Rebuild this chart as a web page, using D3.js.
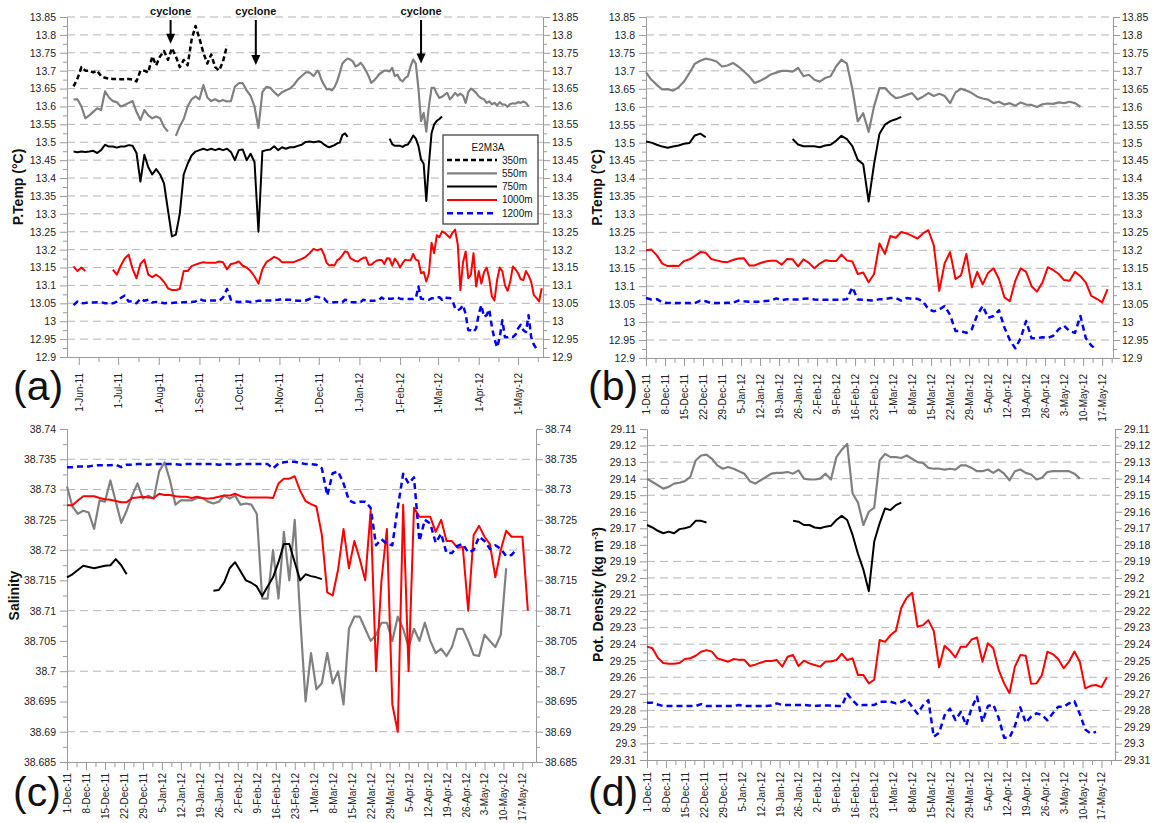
<!DOCTYPE html>
<html lang="en">
<head>
<meta charset="UTF-8">
<title>E2M3A temperature, salinity and density</title>
<script src="https://d3js.org/d3.v7.min.js"></script>
<style>
  body { margin: 0; background: #fff; }
  svg text { font-family: 'Liberation Sans', Arial, sans-serif; }
</style>
</head>
<body>
<div id="canvas"></div>
<script>
// ---- sampling of the series ----
const DAY = 864e5;
const earlyStart = Date.UTC(2011, 4, 28), earlyStep = 3;   // Jun-Nov 2011, every 3 days
const lateStart = Date.UTC(2011, 11, 1), lateStep = 2;     // Dec 2011 - May 2012, every 2 days

// ---- potential temperature (°C), Jun-Nov 2011 ----
const t350early = [13.656,13.678,13.71,13.70,13.70,13.695,13.70,13.685,13.68,13.678,13.677,13.677,13.676,13.676,13.677,13.675,13.67,13.70,13.70,13.695,
  13.74,13.715,13.74,13.755,13.73,13.763,13.74,13.71,13.73,13.715,13.786,13.825,13.79,13.75,13.72,13.745,13.71,13.70,13.726,13.77];
const t550early = [13.62,13.62,13.60,13.567,13.575,13.585,13.595,13.59,13.642,13.625,13.615,13.612,13.60,13.604,13.61,13.615,13.585,13.562,13.59,13.575,
  13.567,13.572,13.567,13.543,13.53,null,13.518,13.545,13.565,13.60,13.62,13.628,13.62,13.66,13.625,13.615,13.62,13.614,13.618,13.614,
  13.615,13.655,13.665,13.665,13.645,13.63,13.60,13.54,13.64,13.655,13.652,13.64,13.63,13.64,13.645,13.65,13.66,13.675,13.685,13.695,13.695,13.685,13.70];
const t750early = [13.474,13.472,13.474,13.473,13.474,13.476,13.47,13.478,13.493,13.488,13.488,13.485,13.488,13.488,13.492,13.49,13.47,13.39,13.465,13.43,
  13.41,13.425,13.41,13.385,13.31,13.237,13.242,13.30,13.41,13.44,13.463,13.474,13.478,13.482,13.478,13.482,13.478,13.482,13.478,13.482,
  13.473,13.45,13.478,13.48,13.45,13.468,13.445,13.25,13.475,13.478,13.48,13.489,13.478,13.486,13.482,13.486,13.486,13.49,13.493,13.501,13.502,13.50,13.502];
const t1000early = [13.153,13.14,13.15,13.14,null,null,null,null,null,null,13.144,13.13,13.155,13.175,13.186,13.146,13.12,13.16,13.172,13.13,
  13.123,13.13,13.122,13.11,13.092,13.087,13.087,13.09,13.14,13.14,13.154,13.158,13.162,13.165,13.163,13.163,13.163,13.167,13.165,13.145,
  13.16,13.162,13.167,13.155,13.15,13.14,13.125,13.105,13.145,13.165,13.172,13.18,13.175,13.165,13.165,13.165,13.165,13.17,13.174,13.18,13.19,13.202,13.198];
const t1200early = [13.045,13.055,13.05,13.051,13.053,13.052,13.053,13.053,13.05,13.05,13.05,13.055,13.065,13.072,13.055,13.056,13.05,13.063,13.057,13.06,
  13.052,13.054,13.053,13.05,13.051,13.051,13.052,13.052,13.053,13.054,13.054,13.055,13.062,13.058,13.057,13.058,13.058,13.057,13.066,13.09,
  13.06,13.055,13.054,13.055,13.055,13.054,13.055,13.057,13.057,13.058,13.058,13.059,13.06,13.062,13.06,13.06,13.058,13.057,13.057,13.058,13.062,13.068,13.068];

// ---- potential temperature (°C), Dec 2011 - May 2012 ----
const t550late = [13.696,13.675,13.661,13.648,13.649,13.645,13.654,13.67,13.694,13.72,13.728,13.734,13.731,13.726,13.712,13.715,13.722,13.712,13.699,13.685,
  13.666,13.672,13.68,13.69,13.695,13.70,13.70,13.698,13.708,13.685,13.689,13.675,13.67,13.68,13.685,13.712,13.731,13.72,13.65,13.559,
  13.582,13.53,13.601,13.652,13.652,13.636,13.624,13.627,13.633,13.638,13.62,13.628,13.638,13.63,13.636,13.63,13.61,13.64,13.65,13.645,
  13.638,13.628,13.623,13.62,13.61,13.614,13.606,13.61,13.603,13.612,13.606,13.605,13.599,13.607,13.609,13.608,13.612,13.61,13.614,13.61,13.60];
const t750late = [13.503,13.50,13.494,13.489,13.486,13.489,13.492,13.497,13.499,13.52,13.525,13.515,
  null,null,null,null,null,null,null,null,null,null,null,null,null,null,null,
  13.51,13.495,13.49,13.49,13.49,13.487,13.492,13.494,13.505,13.519,13.51,13.49,13.452,13.44,13.336,13.44,13.525,13.55,13.56,13.565,13.572];
const t1000late = [13.20,13.202,13.186,13.163,13.156,13.157,13.156,13.17,13.175,13.184,13.195,13.193,13.176,13.172,13.168,13.167,13.173,13.177,13.178,13.158,
  13.158,13.164,13.169,13.171,13.171,13.16,13.176,13.175,13.155,13.175,13.165,13.15,13.163,13.172,13.17,13.17,13.188,13.172,13.169,13.134,
  13.138,13.111,13.134,13.219,13.19,13.24,13.235,13.251,13.247,13.24,13.233,13.247,13.256,13.214,13.087,13.164,13.195,13.12,13.13,13.19,
  13.097,13.14,13.105,13.137,13.15,13.12,13.069,13.058,13.115,13.15,13.14,13.10,13.085,13.11,13.153,13.145,13.134,13.117,13.115,13.14,
  13.128,13.11,13.073,13.065,13.055,13.092];
const t1200late = [13.067,13.063,13.064,13.055,13.053,13.053,13.053,13.053,13.053,13.053,13.06,13.058,13.053,13.053,13.053,13.054,13.054,13.06,13.058,13.057,
  13.057,13.057,13.059,13.06,13.066,13.061,13.064,13.063,13.063,13.065,13.066,13.063,13.062,13.062,13.062,13.062,13.062,13.064,13.097,13.063,
  13.062,13.061,13.06,13.064,13.064,13.067,13.067,13.06,13.067,13.065,13.065,13.058,13.036,13.03,13.035,13.045,13.02,12.975,12.975,12.97,
  12.98,13.02,13.045,13.012,13.017,13.033,12.985,12.95,12.927,12.955,13.003,12.955,12.955,12.958,12.956,12.962,12.98,12.99,12.975,12.97,
  13.017,12.955,12.935,12.923];

// ---- salinity, Dec 2011 - May 2012 ----
const s550 = [38.7305,38.7272,38.726,38.7265,38.7262,38.7235,38.7282,38.728,38.7315,38.728,38.7245,38.7265,38.729,38.731,38.7285,38.729,38.7285,38.733,38.7345,38.7315,
  38.7275,38.7282,38.7282,38.7282,38.7286,38.7286,38.728,38.7277,38.728,38.729,38.7285,38.729,38.7275,38.7277,38.7275,38.726,38.712,38.712,38.72,38.712,
  38.723,38.715,38.725,38.709,38.695,38.703,38.697,38.698,38.703,38.698,38.70,38.6945,38.707,38.709,38.709,38.707,38.705,38.706,38.708,38.708,
  38.705,38.709,38.707,38.704,38.707,38.705,38.708,38.705,38.703,38.7037,38.7025,38.704,38.707,38.707,38.705,38.7027,38.7025,38.706,38.705,38.704,
  38.706,38.717];
const s750 = [38.7155,38.716,38.7167,38.7174,38.7172,38.717,38.7172,38.7174,38.7175,38.7185,38.7175,38.716,
  null,null,null,null,null,null,null,null,null,null,null,null,null,null,null,
  38.7133,38.7134,38.7147,38.717,38.718,38.7165,38.715,38.7146,38.714,38.7124,38.714,38.7155,38.718,38.721,38.721,38.718,38.715,38.716,38.7157,38.7155,38.7152];
const s1000 = [38.7274,38.7274,38.7282,38.7289,38.7289,38.7289,38.7286,38.7284,38.7283,38.7281,38.7279,38.7279,38.7286,38.7287,38.7288,38.7287,38.7286,38.7293,38.7291,38.7291,
  38.7289,38.7288,38.7288,38.7286,38.7288,38.7286,38.7285,38.7286,38.7288,38.729,38.729,38.7293,38.7289,38.7287,38.7287,38.7287,38.7287,38.7287,38.7286,38.731,
  38.7318,38.7318,38.7322,38.7298,38.7281,38.7276,38.7272,38.7225,38.713,38.7125,38.7168,38.7235,38.717,38.7215,38.7185,38.715,38.7265,38.70,38.715,38.7235,
  38.6945,38.69,38.7275,38.70,38.727,38.7255,38.7255,38.7255,38.723,38.725,38.7215,38.7215,38.7204,38.7205,38.71,38.7225,38.724,38.7222,38.721,38.7155,
  38.72,38.7232,38.7222,38.7222,38.7222,38.71];
const s1200 = [38.7337,38.7337,38.7338,38.7338,38.7338,38.734,38.734,38.734,38.734,38.7341,38.7337,38.7341,38.7341,38.7342,38.7342,38.7341,38.7342,38.7342,38.7342,38.7342,
  38.7342,38.7341,38.7342,38.7342,38.7342,38.7342,38.7342,38.7342,38.7341,38.7342,38.7342,38.7341,38.7342,38.7342,38.7342,38.7342,38.7342,38.7342,38.7335,38.7343,
  38.7345,38.7346,38.7346,38.7344,38.7342,38.7342,38.7341,38.7335,38.729,38.7327,38.733,38.731,38.7282,38.7278,38.728,38.728,38.727,38.7208,38.7218,38.721,
  38.7208,38.727,38.7326,38.731,38.732,38.7215,38.725,38.7244,38.7212,38.7227,38.7195,38.7195,38.7207,38.721,38.7196,38.72,38.7222,38.7215,38.7202,38.7208,
  38.7202,38.719,38.7192,38.7202];

// ---- potential density (kg m-3), Dec 2011 - May 2012 ----
const d550 = [29.14,29.142,29.144,29.146,29.145,29.143,29.1425,29.1415,29.139,29.129,29.126,29.1255,29.128,29.132,29.134,29.133,29.134,29.1355,29.137,29.1415,
  29.143,29.141,29.139,29.137,29.1365,29.1365,29.136,29.137,29.135,29.14,29.1405,29.1405,29.14,29.137,29.1405,29.127,29.1225,29.119,29.149,29.1545,
  29.168,29.16,29.1575,29.129,29.125,29.127,29.127,29.1275,29.126,29.128,29.13,29.1305,29.1335,29.134,29.134,29.1345,29.134,29.1345,29.132,29.132,
  29.1335,29.1355,29.1355,29.1345,29.1365,29.1345,29.137,29.141,29.1355,29.1345,29.1365,29.1375,29.1405,29.1395,29.136,29.1355,29.1355,29.1355,29.1355,29.137,
  29.14];
const d750 = [29.168,29.1695,29.1715,29.173,29.172,29.173,29.1705,29.17,29.169,29.1655,29.1655,29.1665,
  null,null,null,null,null,null,null,null,null,null,null,null,null,null,null,
  29.1655,29.166,29.168,29.168,29.1695,29.17,29.169,29.1685,29.165,29.1625,29.165,29.174,29.1855,29.195,29.208,29.178,29.167,29.158,29.159,29.156,29.1545];
const d1000 = [29.2415,29.2425,29.2482,29.2514,29.2519,29.2519,29.2514,29.249,29.2485,29.247,29.2446,29.2436,29.2445,29.2486,29.2496,29.2506,29.249,29.2495,29.2495,29.2532,
  29.2524,29.2512,29.2502,29.2502,29.2496,29.2536,29.2476,29.2466,29.2532,29.25,29.2516,29.2526,29.2536,29.2505,29.2505,29.2496,29.2458,29.2496,29.2486,29.2587,
  29.2587,29.2637,29.2615,29.2375,29.2386,29.2345,29.232,29.218,29.212,29.209,29.2295,29.2285,29.2255,29.232,29.254,29.241,29.244,29.248,29.2415,29.2415,
  29.2372,29.236,29.2506,29.2395,29.2425,29.2556,29.2637,29.2697,29.2536,29.2466,29.247,29.264,29.2637,29.2586,29.2446,29.246,29.249,29.2546,29.2506,29.2445,
  29.2506,29.2667,29.2652,29.2647,29.266,29.26];
const d1200 = [29.2754,29.2754,29.2765,29.2774,29.2774,29.2774,29.2774,29.2774,29.2774,29.2774,29.2762,29.2774,29.2774,29.2774,29.2774,29.2774,29.2774,29.2768,29.2774,29.2774,
  29.2774,29.2774,29.2774,29.277,29.2758,29.2768,29.2768,29.2768,29.2768,29.2768,29.277,29.2774,29.277,29.277,29.277,29.2774,29.2774,29.27,29.274,29.2772,
  29.2768,29.2768,29.2768,29.2748,29.2748,29.2748,29.2758,29.275,29.2734,29.2778,29.282,29.277,29.2738,29.296,29.2935,29.283,29.279,29.2858,29.281,29.289,
  29.2785,29.2717,29.287,29.2774,29.2765,29.2845,29.2965,29.2965,29.2895,29.2782,29.2875,29.2838,29.2818,29.2828,29.286,29.2818,29.2778,29.2778,29.2758,29.2745,
  29.2822,29.2915,29.294,29.293];

// ---- ticks ----
const tempTicks = [12.9,12.95,13,13.05,13.1,13.15,13.2,13.25,13.3,13.35,13.4,13.45,13.5,13.55,13.6,13.65,13.7,13.75,13.8,13.85];
const salTicks = [38.685,38.69,38.695,38.7,38.705,38.71,38.715,38.72,38.725,38.73,38.735,38.74];
const denTicks = [29.11,29.12,29.13,29.14,29.15,29.16,29.17,29.18,29.19,29.2,29.21,29.22,29.23,29.24,29.25,29.26,29.27,29.28,29.29,29.3,29.31];
const tempGrid = tempTicks.slice(1);
const salGrid = [38.69,38.7,38.71,38.72,38.73,38.735];
const denGrid = [29.12,29.13,29.14,29.15,29.19,29.2,29.21,29.22,29.23,29.24,29.25,29.26,29.27,29.28,29.29,29.3];
const monthLabels = ['1-Jun-11','1-Jul-11','1-Aug-11','1-Sep-11','1-Oct-11','1-Nov-11','1-Dec-11','1-Jan-12','1-Feb-12','1-Mar-12','1-Apr-12','1-May-12'];
const weekLabels = ['1-Dec-11','8-Dec-11','15-Dec-11','22-Dec-11','29-Dec-11','5-Jan-12','12-Jan-12','19-Jan-12','26-Jan-12','2-Feb-12','9-Feb-12','16-Feb-12','23-Feb-12',
  '1-Mar-12','8-Mar-12','15-Mar-12','22-Mar-12','29-Mar-12','5-Apr-12','12-Apr-12','19-Apr-12','26-Apr-12','3-May-12','10-May-12','17-May-12'];

const depths = ['350m','550m','750m','1000m','1200m'];
const cycloneDates = ['10-Aug-11','14-Oct-11','17-Feb-12'];
const cycloneTips = [13.775, 13.716, 13.72];

// ---- styles per depth ----
const depthColor = ['#000000','#808080','#000000','#ff0000','#0000ff'];
const depthDash = ['5,3', null, null, null, '6,4'];
const depthWidth = [2.5, 2.2, 2, 2, 2.5];

const parseD = d3.utcParse('%d-%b-%y');
const fmtD = d3.utcFormat('%-d-%b-%y');

function toPoints(start, step, vals) {
  return vals.map((v, i) => ({ date: new Date(start + i * step * DAY), v: v }));
}
function early(v) { return toPoints(earlyStart, earlyStep, v); }
function late(v) { return toPoints(lateStart, lateStep, v); }

const svg = d3.select('#canvas').append('svg')
  .attr('width', 1155).attr('height', 823);

function styleAxis(sel, size) {
  sel.select('.domain').attr('stroke', '#9a9a9a');
  sel.selectAll('.tick line').attr('stroke', '#9a9a9a');
  sel.selectAll('text').attr('fill', '#222').style('font-size', (size || 10.5) + 'px')
    .style('font-family', "'Liberation Sans', Arial, sans-serif");
}

function drawPanel(p) {
  const x = d3.scaleUtc().domain(p.xDomain).range([p.left, p.right]);
  const y = d3.scaleLinear().domain(p.yDomain).range([p.bottom, p.top]);
  const g = svg.append('g');

  // dashed grid
  g.selectAll('line.grid').data(p.grid).join('line')
    .attr('class', 'grid')
    .attr('x1', p.left).attr('x2', p.right)
    .attr('y1', d => y(d)).attr('y2', d => y(d))
    .attr('stroke', '#b4b4b4').attr('stroke-dasharray', '8,5');

  // y axes, left and right, with minor ticks
  const minorY = p.yTicks.slice(1).map((v, i) => (v + p.yTicks[i]) / 2);
  [[d3.axisLeft, p.left, 4], [d3.axisRight, p.right, 2]].forEach(([fn, pos, pad]) => {
    g.append('g').attr('transform', `translate(${pos},0)`)
      .call(fn(y).tickValues(minorY).tickFormat('').tickSize(4).tickSizeOuter(0))
      .call(styleAxis);
    g.append('g').attr('transform', `translate(${pos},0)`)
      .call(fn(y).tickValues(p.yTicks).tickFormat(d => d).tickSize(7).tickPadding(pad).tickSizeOuter(0))
      .call(styleAxis);
  });

  // x axis, rotated labels
  const major = p.xLabels.map(parseD);
  const minor = major.map((d, i) => {
    const next = major[i + 1] ? major[i + 1].getTime() : d.getTime() + (d.getTime() - major[i - 1].getTime());
    return new Date((d.getTime() + next) / 2);
  }).filter(d => d <= p.xDomain[1]);
  g.append('g').attr('transform', `translate(0,${p.bottom})`)
    .call(d3.axisBottom(x).tickValues(minor).tickFormat('').tickSize(5).tickSizeOuter(0))
    .call(styleAxis);
  const xb = g.append('g').attr('transform', `translate(0,${p.bottom})`)
    .call(d3.axisBottom(x).tickValues(major).tickFormat(fmtD).tickSize(8).tickSizeOuter(0))
    .call(styleAxis, 10);
  xb.selectAll('text')
    .attr('transform', 'rotate(-90)')
    .attr('text-anchor', 'end')
    .attr('x', -p.labelGap).attr('y', 0).attr('dy', '0.35em');

  // series
  const line = d3.line()
    .defined(d => d.v != null)
    .x(d => x(d.date))
    .y(d => y(d.v));
  p.series.forEach(s => {
    g.append('path').datum(s.points)
      .attr('d', line)
      .attr('fill', 'none')
      .attr('stroke', depthColor[s.depth])
      .attr('stroke-width', depthWidth[s.depth])
      .attr('stroke-dasharray', depthDash[s.depth])
      .attr('stroke-linejoin', 'round');
  });

  // y title
  const t = g.append('text')
    .attr('transform', `translate(${p.titleX},${(p.top + p.bottom) / 2}) rotate(-90)`)
    .attr('text-anchor', 'middle')
    .attr('dy', '0.35em')
    .style('font-size', '14px').style('font-weight', 'bold')
    .attr('fill', '#111');
  p.title(t);

  // panel letter
  g.append('text')
    .attr('x', p.letterX).attr('y', p.letterY)
    .style('font-size', '41px')
    .attr('fill', '#111')
    .text(p.letter);

  return { x, y, g };
}

const tempTitle = t => t.text('P.Temp (°C)');

const A = drawPanel({
  left: 67, right: 543, top: 17, bottom: 357,
  xDomain: [new Date(Date.UTC(2011, 4, 23)), new Date(Date.UTC(2012, 4, 20))],
  yDomain: [12.9, 13.85], yTicks: tempTicks, grid: tempGrid, xLabels: monthLabels, labelGap: 16,
  series: [
    { depth: 0, points: early(t350early) },
    { depth: 1, points: early(t550early).concat(late(t550late)) },
    { depth: 2, points: early(t750early).concat(late(t750late)) },
    { depth: 3, points: early(t1000early).concat(late(t1000late)) },
    { depth: 4, points: early(t1200early).concat(late(t1200late)) }
  ],
  title: tempTitle, titleX: 18, letter: '(a)', letterX: 13, letterY: 400
});

drawPanel({
  left: 646, right: 1113, top: 17, bottom: 358,
  xDomain: [new Date(lateStart), new Date(Date.UTC(2012, 4, 21))],
  yDomain: [12.9, 13.85], yTicks: tempTicks, grid: tempGrid, xLabels: weekLabels, labelGap: 16,
  series: [
    { depth: 1, points: late(t550late) },
    { depth: 2, points: late(t750late) },
    { depth: 3, points: late(t1000late) },
    { depth: 4, points: late(t1200late) }
  ],
  title: tempTitle, titleX: 597, letter: '(b)', letterX: 588, letterY: 400
});

drawPanel({
  left: 67, right: 536, top: 429, bottom: 762,
  xDomain: [new Date(lateStart), new Date(Date.UTC(2012, 4, 22))],
  yDomain: [38.685, 38.74], yTicks: salTicks, grid: salGrid, xLabels: weekLabels, labelGap: 11,
  series: [
    { depth: 1, points: late(s550) },
    { depth: 2, points: late(s750) },
    { depth: 3, points: late(s1000) },
    { depth: 4, points: late(s1200) }
  ],
  title: t => t.text('Salinity'), titleX: 14, letter: '(c)', letterX: 13, letterY: 806
});

drawPanel({
  left: 647, right: 1115, top: 429, bottom: 760,
  xDomain: [new Date(lateStart), new Date(Date.UTC(2012, 4, 22))],
  yDomain: [29.31, 29.11], yTicks: denTicks, grid: denGrid, xLabels: weekLabels, labelGap: 12,
  series: [
    { depth: 1, points: late(d550) },
    { depth: 2, points: late(d750) },
    { depth: 3, points: late(d1000) },
    { depth: 4, points: late(d1200) }
  ],
  title: t => {
    t.append('tspan').text('Pot. Density (kg m');
    t.append('tspan').attr('baseline-shift', 'super').style('font-size', '9px').text('-3');
    t.append('tspan').text(')');
  },
  titleX: 598, letter: '(d)', letterX: 588, letterY: 806
});

// cyclone arrows in panel (a)
cycloneDates.forEach((c, i) => {
  const cx = A.x(parseD(c));
  const tip = A.y(cycloneTips[i]);
  A.g.append('text').attr('x', cx).attr('y', 15)
    .attr('text-anchor', 'middle')
    .style('font-size', '11px').style('font-weight', 'bold')
    .attr('fill', '#111').text('cyclone');
  A.g.append('line').attr('x1', cx).attr('x2', cx).attr('y1', 20).attr('y2', tip - 8)
    .attr('stroke', '#000').attr('stroke-width', 2);
  A.g.append('path')
    .attr('d', `M${cx - 4.5},${tip - 10}L${cx + 4.5},${tip - 10}L${cx},${tip}Z`)
    .attr('fill', '#000');
});

// legend in panel (a)
const lg = A.g.append('g');
lg.append('rect').attr('x', 443).attr('y', 135).attr('width', 95).attr('height', 89)
  .attr('fill', '#fff').attr('stroke', '#444').attr('stroke-width', 1.3);
lg.append('text').attr('x', 488).attr('y', 151).attr('text-anchor', 'middle')
  .style('font-size', '10px').attr('fill', '#111').text('E2M3A');
depths.forEach((d, i) => {
  const ry = 160 + i * 13.3;
  lg.append('line').attr('x1', 447).attr('x2', 497).attr('y1', ry).attr('y2', ry)
    .attr('stroke', depthColor[i]).attr('stroke-width', depthWidth[i])
    .attr('stroke-dasharray', depthDash[i]);
  lg.append('text').attr('x', 502).attr('y', ry + 3.5)
    .style('font-size', '10px').attr('fill', '#111').text(d);
});
</script>
</body>
</html>
